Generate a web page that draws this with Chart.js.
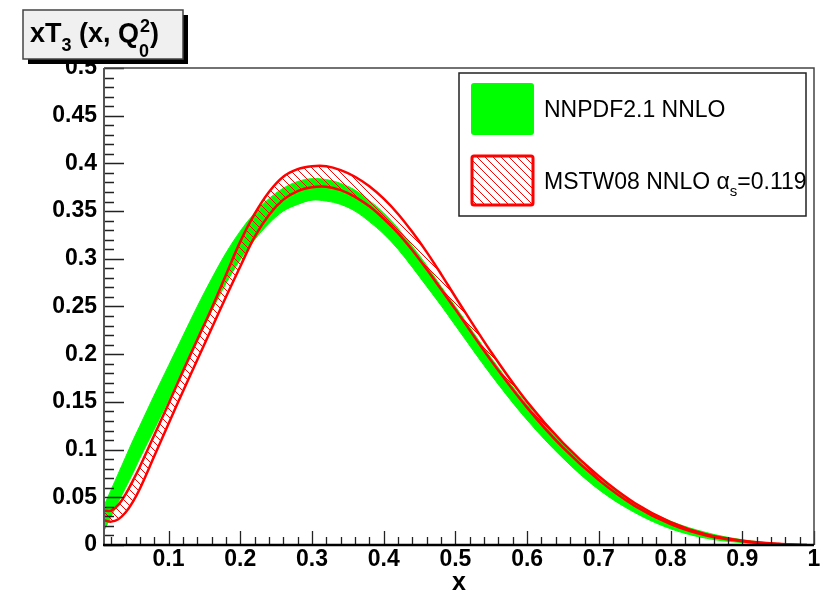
<!DOCTYPE html>
<html>
<head>
<meta charset="utf-8">
<script src="https://cdn.jsdelivr.net/npm/chart.js@4.4.0/dist/chart.umd.min.js"></script>
<style>
  html, body { margin: 0; padding: 0; background: #fff; }
  #wrap { width: 823px; height: 594px; }
</style>
</head>
<body>
<div id="wrap"><canvas id="chart" width="823" height="594"></canvas></div>
<script>
// x grid shared by both PDF sets
const xs = [0.01, 0.02, 0.03, 0.04, 0.05, 0.06, 0.08, 0.10, 0.12, 0.14, 0.16, 0.18, 0.20,
            0.22, 0.24, 0.26, 0.28, 0.30, 0.32, 0.34, 0.36, 0.38, 0.40, 0.42, 0.44, 0.46,
            0.48, 0.50, 0.55, 0.60, 0.65, 0.70, 0.75, 0.80, 0.85, 0.90, 0.95, 0.99];

// NNPDF2.1 NNLO one-sigma band
const nnpdfUp = [0.041, 0.058, 0.075, 0.092, 0.109, 0.125, 0.157, 0.188, 0.219, 0.250, 0.279, 0.306, 0.329,
                 0.348, 0.363, 0.374, 0.381, 0.384, 0.383, 0.379, 0.372, 0.361, 0.348, 0.332, 0.313, 0.293,
                 0.271, 0.250, 0.196, 0.147, 0.105, 0.070, 0.044, 0.025, 0.013, 0.0055, 0.0015, 0.0];
const nnpdfLo = [0.015, 0.030, 0.045, 0.060, 0.075, 0.091, 0.121, 0.152, 0.183, 0.214, 0.245, 0.274, 0.299,
                 0.320, 0.337, 0.350, 0.357, 0.3615, 0.3605, 0.357, 0.350, 0.339, 0.326, 0.310, 0.291, 0.271,
                 0.251, 0.230, 0.178, 0.131, 0.091, 0.058, 0.034, 0.017, 0.007, 0.0025, 0.0005, 0.0];

// MSTW08 NNLO band edges
const mstwUp = [0.036, 0.036, 0.042, 0.053, 0.067, 0.082, 0.115, 0.148, 0.182, 0.215, 0.248, 0.283, 0.318,
                0.347, 0.370, 0.386, 0.394, 0.397, 0.397, 0.393, 0.386, 0.376, 0.363, 0.347, 0.328, 0.307,
                0.284, 0.260, 0.202, 0.150, 0.107, 0.072, 0.044, 0.024, 0.011, 0.0045, 0.0012, 0.0];
const mstwLo = [0.026, 0.0245, 0.027, 0.034, 0.045, 0.059, 0.093, 0.127, 0.161, 0.194, 0.227, 0.260, 0.292,
                0.323, 0.346, 0.362, 0.371, 0.375, 0.3755, 0.372, 0.365, 0.355, 0.342, 0.327, 0.309, 0.289,
                0.268, 0.247, 0.193, 0.144, 0.102, 0.068, 0.041, 0.022, 0.010, 0.004, 0.001, 0.0];

const xTicks = [0.1, 0.2, 0.3, 0.4, 0.5, 0.6, 0.7, 0.8, 0.9, 1];
const yTicks = [0, 0.05, 0.1, 0.15, 0.2, 0.25, 0.3, 0.35, 0.4, 0.45, 0.5];
const xMinorStep = 0.02;
const yMinorStep = 0.01;

const legendLabels = ['NNPDF2.1 NNLO', 'MSTW08 NNLO '];

const GREEN = '#00ff00';
const RED = '#ff0000';
const FONT = '"Liberation Sans", Arial, sans-serif';

function pts(ys) {
    return xs.map((x, i) => ({ x: x, y: ys[i] }));
}

// red diagonal hatching used for the MSTW band
function makeHatch() {
    const s = 8;
    const c = document.createElement('canvas');
    c.width = s; c.height = s;
    const g = c.getContext('2d');
    g.strokeStyle = RED;
    g.lineWidth = 1;
    g.beginPath();
    g.moveTo(-1, -1); g.lineTo(s + 1, s + 1);
    g.moveTo(-1, s - 1); g.lineTo(1, s + 1);
    g.moveTo(s - 1, -1); g.lineTo(s + 1, 1);
    g.stroke();
    return g.createPattern(c, 'repeat');
}

const ctx = document.getElementById('chart').getContext('2d');
const hatch = makeHatch();

function fmt(v) {
    return String(parseFloat(v.toFixed(2)));
}

// frame, inner ticks, legend and title box, ROOT style
const rootDecor = {
    id: 'rootDecor',
    afterDatasetsDraw(chart) {
        const c = chart.ctx;
        const a = chart.chartArea;
        const sx = chart.scales.x;
        const sy = chart.scales.y;
        c.save();

        // x ticks pointing up from the bottom axis
        c.strokeStyle = '#222';
        c.lineWidth = 1.3;
        c.beginPath();
        for (let v = 0.02; v <= 1.0001; v += xMinorStep) {
            const px = Math.round(sx.getPixelForValue(v)) + 0.5;
            const major = Math.abs(v * 10 - Math.round(v * 10)) < 1e-6;
            c.moveTo(px, a.bottom);
            c.lineTo(px, a.bottom - (major ? 14 : 8));
        }
        // y ticks pointing right from the left axis
        for (let v = 0; v <= 0.5001; v += yMinorStep) {
            const py = Math.round(sy.getPixelForValue(v)) + 0.5;
            const major = Math.abs(v * 20 - Math.round(v * 20)) < 1e-6;
            c.moveTo(a.left, py);
            c.lineTo(a.left + (major ? 20 : 10), py);
        }
        c.stroke();

        // top and right frame
        c.strokeStyle = '#444';
        c.lineWidth = 1.5;
        c.beginPath();
        c.moveTo(a.left, a.top);
        c.lineTo(a.right, a.top);
        c.lineTo(a.right, a.bottom);
        c.stroke();

        // left axis
        c.strokeStyle = '#555';
        c.lineWidth = 2;
        c.beginPath();
        c.moveTo(a.left, a.top);
        c.lineTo(a.left, a.bottom);
        c.stroke();

        // bottom axis
        c.strokeStyle = '#000';
        c.lineWidth = 2.5;
        c.beginPath();
        c.moveTo(a.left - 1, a.bottom);
        c.lineTo(a.right, a.bottom);
        c.stroke();

        c.restore();
    },
    afterDraw(chart) {
        const c = chart.ctx;
        const a = chart.chartArea;
        c.save();

        // legend box
        const lx = 459, ly = 73, lw = 347, lh = 143;
        c.fillStyle = '#fff';
        c.fillRect(lx, ly, lw, lh);
        c.strokeStyle = '#222';
        c.lineWidth = 1.5;
        c.strokeRect(lx, ly, lw, lh);

        // green swatch
        c.fillStyle = GREEN;
        c.beginPath();
        c.roundRect(471, 83, 63, 52, 3);
        c.fill();

        // hatched red swatch
        c.fillStyle = '#fff';
        c.fillRect(472, 156, 61, 49);
        c.fillStyle = hatch;
        c.fillRect(472, 156, 61, 49);
        c.strokeStyle = RED;
        c.lineWidth = 3;
        c.beginPath();
        c.roundRect(472, 156, 61, 49, 2);
        c.stroke();

        c.fillStyle = '#000';
        c.textBaseline = 'alphabetic';
        c.textAlign = 'left';
        c.font = '23px ' + FONT;
        c.fillText(legendLabels[0], 544, 117);
        let tx = 544;
        c.fillText(legendLabels[1], tx, 189);
        tx += c.measureText(legendLabels[1]).width;
        c.fillText('\u03b1', tx, 189);
        tx += c.measureText('\u03b1').width;
        c.font = '15px ' + FONT;
        c.fillText('s', tx, 196);
        tx += c.measureText('s').width;
        c.font = '23px ' + FONT;
        c.fillText('=0.119', tx, 189);

        // title box with drop shadow
        c.fillStyle = '#000';
        c.fillRect(28, 15, 160, 49);
        c.fillStyle = '#f0f0f0';
        c.fillRect(23, 10, 160, 49);
        c.strokeStyle = '#444';
        c.lineWidth = 1.5;
        c.strokeRect(23, 10, 160, 49);

        c.fillStyle = '#000';
        const big = 'bold 27px ' + FONT;
        const small = 'bold 18px ' + FONT;
        let x = 30;
        const base = 42;
        c.font = big;
        c.fillText('xT', x, base);
        x += c.measureText('xT').width;
        c.font = small;
        c.fillText('3', x, base + 9);
        x += c.measureText('3').width;
        c.font = big;
        c.fillText(' (x, Q', x, base);
        x += c.measureText(' (x, Q').width;
        c.font = small;
        c.fillText('2', x + 1, base - 10);
        c.fillText('0', x, base + 15);
        x += c.measureText('2').width + 1;
        c.font = big;
        c.fillText(')', x, base);

        // x axis title
        c.font = 'bold 25px ' + FONT;
        c.textAlign = 'center';
        c.fillText('x', (a.left + a.right) / 2, 590);

        c.restore();
    }
};

const lineStyle = { pointRadius: 0, tension: 0.35 };

new Chart(ctx, {
    type: 'line',
    data: {
        datasets: [
            {
                ...lineStyle,
                label: 'NNPDF2.1 NNLO',
                data: pts(nnpdfUp),
                borderColor: GREEN,
                borderWidth: 1,
                backgroundColor: GREEN,
                fill: '+1',
                order: 2
            },
            {
                ...lineStyle,
                label: 'NNPDF2.1 NNLO low',
                data: pts(nnpdfLo),
                borderColor: GREEN,
                borderWidth: 1,
                fill: false,
                order: 2
            },
            {
                ...lineStyle,
                label: 'MSTW08 NNLO',
                data: pts(mstwUp),
                borderColor: RED,
                borderWidth: 2.5,
                backgroundColor: hatch,
                fill: '+1',
                order: 1
            },
            {
                ...lineStyle,
                label: 'MSTW08 NNLO low',
                data: pts(mstwLo),
                borderColor: RED,
                borderWidth: 2.5,
                fill: false,
                order: 1
            }
        ]
    },
    options: {
        responsive: false,
        animation: false,
        devicePixelRatio: 1,
        layout: { padding: { left: 0, right: 9, top: 68, bottom: 0 } },
        plugins: {
            legend: { display: false },
            tooltip: { enabled: false }
        },
        scales: {
            x: {
                type: 'linear',
                min: 0.01,
                max: 1,
                afterFit: s => { s.height = 49; },
                afterBuildTicks: s => { s.ticks = xTicks.map(v => ({ value: v })); },
                grid: { display: false, drawTicks: false },
                border: { display: false },
                ticks: {
                    padding: 1,
                    color: '#000',
                    font: { family: FONT, size: 23, weight: 'bold' },
                    maxRotation: 0,
                    autoSkip: false,
                    callback: v => fmt(v)
                }
            },
            y: {
                type: 'linear',
                min: 0,
                max: 0.5,
                afterFit: s => { s.width = 104; },
                afterBuildTicks: s => { s.ticks = yTicks.map(v => ({ value: v })); },
                grid: { display: false, drawTicks: false },
                border: { display: false },
                ticks: {
                    padding: 7,
                    color: '#000',
                    font: { family: FONT, size: 23, weight: 'bold' },
                    autoSkip: false,
                    callback: v => fmt(v)
                }
            }
        }
    },
    plugins: [rootDecor]
});
</script>
</body>
</html>
